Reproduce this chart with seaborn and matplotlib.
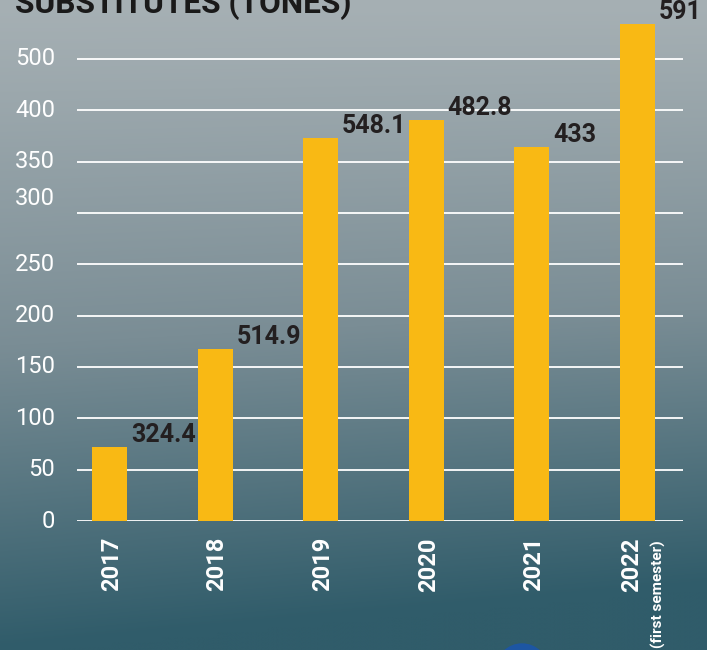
import numpy as np
import seaborn as sns
import matplotlib.pyplot as plt
from matplotlib.patches import Circle

# values (bar heights are in the chart's own drawn scale)
years = ["2017", "2018", "2019", "2020", "2021", "2022"]
bar_heights = [72.1, 167.5, 373.0, 390.6, 364.3, 484.1]
value_labels = ["324.4", "514.9", "548.1", "482.8", "433", "591"]
tick_values = [0, 50, 100, 150, 200, 250, 300, 350, 400, 450]
tick_labels = ["0", "50", "100", "150", "200", "250", "300", "350", "400", "500"]

sns.set_theme(style="white")
plt.rcParams["font.family"] = ["Roboto", "DejaVu Sans"]

fig = plt.figure(figsize=(7.07, 6.5), dpi=100)

# cloudy sky background: light grey at the top, dark teal at the bottom
h, w = 130, 141
yy = np.linspace(0, 1, h)[:, None]
xx = np.linspace(0, 1, w)[None, :]
top = np.array([166, 176, 180]) / 255
mid = np.array([122, 141, 149]) / 255
bot = np.array([48, 92, 106]) / 255
t = np.clip(yy ** 1.1 + 0.12 * xx * yy, 0, 1)
first = np.clip(t * 2, 0, 1)[..., None]
second = np.clip(t * 2 - 1, 0, 1)[..., None]
grad = top * (1 - first) + mid * first
grad = grad * (1 - second) + bot * second
bg = fig.add_axes([0, 0, 1, 1], zorder=-1)
bg.imshow(grad, aspect="auto", extent=[0, 1, 0, 1], interpolation="bicubic")
bg.axis("off")
fig.patches.append(Circle((5.22, -0.2), 0.26, transform=fig.dpi_scale_trans,
                          color="#1d56a3", zorder=5))

# title is cut off at the top edge in the reference
fig.text(15 / 707, 1 - 13 / 650, "SUBSTITUTES (TONES)", fontsize=22.8,
         fontweight="bold", color="#1a1a1a", va="baseline", ha="left")

ax = fig.add_axes([77 / 707, 129 / 650, 606 / 707, 521 / 650])
ax.patch.set_alpha(0)

sns.barplot(x=years, y=bar_heights, color="#f9b914", saturation=1,
            width=0.331, linewidth=0, ax=ax, zorder=3)

ax.set_ylim(0, 521 / 1.02667)
ax.set_xlim(-0.308, 5.431)
ax.set_yticks(tick_values)
ax.yaxis.grid(True, color="white", linewidth=1.3)
ax.set_axisbelow(True)
ax.tick_params(axis="both", length=0, labelleft=False)
sns.despine(ax=ax, left=True, bottom=True)
ax.set_xlabel("")
ax.set_ylabel("")

# y tick labels drawn by hand, the "300" one sits above its line
for val, lab in zip(tick_values, tick_labels):
    dy = 14 if lab == "300" else 0
    ax.annotate(lab, xy=(0, val), xycoords=("axes fraction", "data"),
                xytext=(-22, dy), textcoords="offset pixels",
                ha="right", va="center", fontsize=17, color="white")

# x labels, rotated
ax.set_xticks(range(len(years)))
ax.set_xticklabels([])
for i, yr in enumerate(years):
    dx = -6 if i == len(years) - 1 else 2
    ax.annotate(yr, xy=(i, 0), xytext=(dx, -16), textcoords="offset pixels",
                rotation=90, ha="center", va="top", fontsize=17,
                fontweight="bold", color="white", annotation_clip=False)
ax.annotate("(first semester)", xy=(len(years) - 1, 0), xytext=(21, -19),
            textcoords="offset pixels", rotation=90, ha="center", va="top",
            fontsize=11, fontweight="bold", color="white",
            annotation_clip=False)

# value labels to the right of each bar top
for bar, lab in zip(ax.patches, value_labels):
    ax.annotate(lab, xy=(bar.get_x() + bar.get_width(), bar.get_height()),
                xytext=(4, 0), textcoords="offset pixels", ha="left",
                va="bottom", fontsize=18, fontweight="bold", color="#231f20")

fig.savefig("out.png", dpi=100)
